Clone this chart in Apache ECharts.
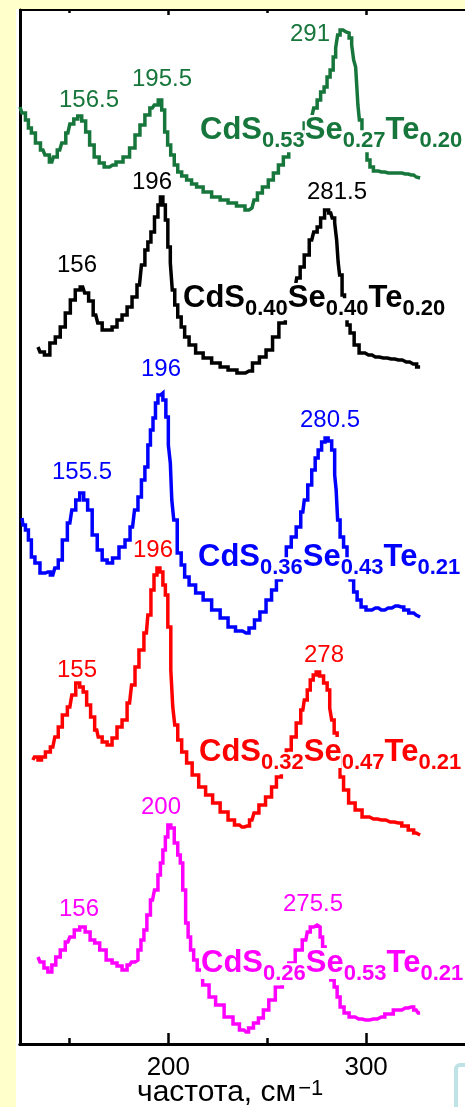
<!DOCTYPE html>
<html>
<head>
<meta charset="utf-8">
<script src="https://cdn.jsdelivr.net/npm/echarts@6/dist/echarts.min.js"></script>
<style>
html, body { margin: 0; padding: 0; background: #fff; }
#chart { width: 465px; height: 1107px; }
</style>
</head>
<body>
<div id="chart"></div>
<script>
// raman spectra, intensity offset per sample (arb. units)
const freqGreen = [125.0,127.0,128.5,130.0,131.5,134.1,136.6,138.6,141.1,142.6,145.1,147.1,149.2,151.2,153.2,155.2,157.2,159.2,161.2,163.8,166.3,168.8,171.8,175.3,178.9,181.9,184.4,186.9,189.4,191.9,193.9,195.9,197.4,198.9,200.4,202.0,204.0,205.5,208.0,210.5,213.0,215.6,219.6,224.2,228.2,232.2,236.7,240.8,242.3,244.3,245.8,249.3,251.8,254.4,256.9,259.4,262.4,264.9,267.4,270.0,272.5,274.5,276.0,278.0,279.5,281.0,282.6,284.1,285.1,286.1,287.6,289.1,290.6,292.2,293.2,294.2,295.2,295.6,296.1,297.1,298.7,299.7,301.2,302.7,304.7,307.7,311.2,316.3,319.8,322.8,325.3,327.3];
const intGreen = [937,931,924,916,911,901,894,889,882,887,894,901,911,920,925,928,923,912,899,887,881,877,879,882,887,896,909,919,929,936,939,944,934,912,899,889,879,872,868,864,860,857,852,847,844,841,838,834,836,844,851,857,864,871,879,887,894,903,911,921,927,936,944,952,957,967,974,987,996,1009,1014,1012,1011,1006,999,984,977,954,939,924,904,894,884,877,873,872,871,871,870,869,867,866];

const freqBlack = [134.1,136.1,138.6,141.6,144.1,146.6,149.2,151.7,154.2,156.7,158.7,160.7,163.3,165.3,167.8,170.3,172.8,175.3,177.9,180.4,182.9,185.4,187.4,188.9,190.4,192.0,194.0,195.5,196.5,198.0,199.0,200.5,201.5,202.5,204.0,205.5,207.5,209.0,212.0,215.6,219.6,224.2,228.2,232.2,237.2,240.8,244.3,247.8,251.0,254.4,257.4,260.9,263.9,265.9,267.4,270.0,272.5,274.5,276.0,278.0,280.0,282.1,283.6,284.6,285.6,286.1,287.1,288.6,289.6,291.1,292.7,295.2,297.7,301.2,304.7,308.7,312.7,316.3,320.3,323.8,327.3];
const intBlack = [697,692,689,701,707,717,731,744,754,757,751,743,729,721,714,714,717,724,729,737,747,759,779,794,802,812,827,839,847,839,824,797,781,754,739,727,717,707,699,691,686,681,677,674,671,673,681,687,694,707,721,736,754,766,777,789,804,812,817,826,834,831,826,821,804,782,769,749,727,719,711,699,691,689,687,686,685,684,682,680,677];

const freqBlue = [126.0,127.0,128.5,130.0,131.5,133.6,136.6,139.1,141.6,143.6,145.1,147.7,150.2,152.2,154.2,156.2,158.2,160.2,162.8,165.3,167.8,170.3,173.3,176.8,179.4,181.9,183.9,185.4,187.4,188.9,190.4,191.5,193.0,194.0,195.5,196.5,198.0,199.5,200.5,201.5,202.0,203.5,205.5,207.5,209.0,212.0,215.6,219.6,224.2,228.2,232.2,235.7,239.3,242.3,244.8,247.8,251.0,253.4,255.9,258.4,260.9,263.4,265.9,268.0,269.5,271.5,273.5,275.0,276.5,278.5,280.0,281.6,283.6,284.6,285.1,286.1,287.6,289.6,291.1,292.7,294.7,296.2,298.7,301.2,304.7,307.7,311.2,314.8,317.8,320.3,322.8,325.3,327.3];
const intBlue = [526,519,514,504,487,481,471,472,469,476,484,504,521,534,544,551,544,534,509,494,484,481,486,497,504,517,534,547,564,577,599,614,626,641,649,651,644,627,599,581,544,524,491,479,467,459,451,444,434,426,417,413,411,416,424,432,444,454,464,479,497,507,517,532,544,559,574,586,594,602,606,603,594,569,554,524,507,497,484,464,452,444,437,434,436,434,436,438,437,434,431,429,427];

const freqRed = [131.5,133.1,135.1,136.6,139.1,141.6,143.6,145.1,147.7,150.2,152.2,154.2,156.2,157.7,159.7,161.7,163.8,165.3,167.8,170.3,172.8,175.3,177.9,180.4,182.4,183.9,186.4,188.9,190.4,192.0,193.5,195.0,196.5,198.0,199.0,200.5,202.0,202.5,204.0,205.5,208.0,210.5,213.6,217.1,220.6,224.2,228.2,232.2,234.7,237.2,239.8,242.3,244.3,247.3,251.0,253.4,255.9,258.4,260.9,263.4,265.9,268.0,269.5,271.0,272.5,274.0,275.5,277.5,279.5,281.1,282.1,283.1,284.6,286.1,287.6,289.6,292.7,296.2,299.7,303.7,307.7,312.2,316.3,319.8,322.8,325.3,327.3];
const intRed = [284,287,284,287,292,297,307,317,329,337,349,361,357,352,339,327,314,307,302,299,306,317,324,341,359,377,394,411,429,454,469,476,472,459,449,417,374,337,319,304,292,281,269,257,249,241,232,224,219,217,218,224,231,239,247,257,267,281,294,307,321,334,344,354,364,369,372,368,361,354,336,324,311,289,267,254,241,234,227,225,224,222,221,218,214,211,209];

const freqMagenta = [134.1,136.1,138.1,140.1,142.1,144.1,146.6,149.2,151.2,153.7,156.7,159.2,161.7,163.8,166.8,170.3,172.8,175.3,177.9,180.4,182.4,183.9,185.4,186.9,188.4,189.9,192.0,194.0,195.5,196.5,198.0,199.0,200.5,202.0,204.0,205.5,206.6,208.0,209.5,210.5,212.0,213.6,215.6,219.1,222.1,225.7,230.7,234.7,237.2,239.3,241.8,244.3,246.8,249.3,252.3,255.9,259.4,262.4,265.9,269.5,271.0,272.5,274.5,276.0,277.5,278.5,280.0,281.1,283.1,284.6,286.1,287.6,290.1,292.7,296.2,299.7,303.7,307.7,311.2,316.3,319.8,322.8,325.3,327.3];
const intMagenta = [87,82,76,72,79,87,94,102,107,114,117,112,104,101,94,84,81,78,74,79,82,84,94,104,114,129,144,154,169,181,194,207,219,216,201,189,181,154,121,107,94,84,74,59,47,39,27,20,14,12,16,21,26,34,44,57,69,81,94,104,112,117,119,117,107,97,84,74,64,57,47,37,31,27,25,24,25,27,30,34,36,37,34,31];

// peak positions written above each curve
const peaksGreen = ['156.5', '195.5', '291'];
const peaksBlack = ['156', '196', '281.5'];
const peaksBlue = ['155.5', '196', '280.5'];
const peaksRed = ['155', '196', '278'];
const peaksMagenta = ['156', '200', '275.5'];

// composition: text, subscript, text, subscript ...
const formulaGreen = ['CdS', '0.53', 'Se', '0.27', 'Te', '0.20'];
const formulaBlack = ['CdS', '0.40', 'Se', '0.40', 'Te', '0.20'];
const formulaBlue = ['CdS', '0.36', 'Se', '0.43', 'Te', '0.21'];
const formulaRed = ['CdS', '0.32', 'Se', '0.47', 'Te', '0.21'];
const formulaMagenta = ['CdS', '0.26', 'Se', '0.53', 'Te', '0.21'];

const majorTicks = [200, 300];
const minorTicks = [150, 250];

const FONT = '"Liberation Sans", Arial, sans-serif';
const curves = [
    { x: freqGreen, y: intGreen, color: '#17763b', peaks: peaksGreen, formula: formulaGreen,
      peakPos: [[89, 108], [162, 87], [310, 42]], formulaPos: [200, 140] },
    { x: freqBlack, y: intBlack, color: '#000000', peaks: peaksBlack, formula: formulaBlack,
      peakPos: [[77, 273], [152, 190], [337, 200]], formulaPos: [183, 308] },
    { x: freqBlue, y: intBlue, color: '#0000ff', peaks: peaksBlue, formula: formulaBlue,
      peakPos: [[82, 480], [161, 377], [330, 428]], formulaPos: [198, 567] },
    { x: freqRed, y: intRed, color: '#ff0000', peaks: peaksRed, formula: formulaRed,
      peakPos: [[77, 678], [153, 558], [324, 663]], formulaPos: [199, 762] },
    { x: freqMagenta, y: intMagenta, color: '#ff00ff', peaks: peaksMagenta, formula: formulaMagenta,
      peakPos: [[79, 917], [161, 815], [313, 912]], formulaPos: [201, 973] }
];

const ctx = document.createElement('canvas').getContext('2d');
function textWidth(t, font) {
    ctx.font = font;
    return ctx.measureText(t).width;
}

// text placed by its baseline (zrender only knows top/middle/bottom)
function textAt(t, x, baseline, size, weight, color, align, bg) {
    const font = weight + ' ' + size + 'px ' + FONT;
    return {
        type: 'text', x: x, y: baseline - 0.31 * size, z: 100,
        style: {
            text: t, font: font, fill: color,
            align: align, textAlign: align,
            verticalAlign: 'middle', textVerticalAlign: 'middle',
            backgroundColor: bg
        }
    };
}

function formulaText(parts, pos, color) {
    const out = [];
    let cx = pos[0];
    parts.forEach((p, i) => {
        const sub = i % 2 === 1;
        const size = sub ? 22 : 31;
        out.push(textAt(p, cx, sub ? pos[1] + 8 : pos[1], size, 'bold', color, 'left', '#fff'));
        cx += textWidth(p, 'bold ' + size + 'px ' + FONT);
    });
    return out;
}

const graphics = [
    { type: 'rect', z: 0, shape: { x: 0, y: 0, width: 16, height: 1107 }, style: { fill: '#ffffcc' } },
    { type: 'rect', z: 0, shape: { x: 0, y: 0, width: 465, height: 9 }, style: { fill: '#ffffcc' } },
    { type: 'rect', z: 0, shape: { x: 456, y: 1065, width: 40, height: 60, r: 4 },
      style: { fill: '#fff', stroke: '#bfe2e6', lineWidth: 4 } }
];
curves.forEach(c => {
    c.peaks.forEach((p, i) => {
        graphics.push(textAt(p, c.peakPos[i][0], c.peakPos[i][1], 24, 'normal', c.color, 'center'));
    });
    formulaText(c.formula, c.formulaPos, c.color).forEach(g => graphics.push(g));
});
// axis name with superscript
const nameMain = 'частота, см';
graphics.push(textAt(nameMain, 137, 1102, 30, 'normal', '#000', 'left'));
graphics.push(textAt('\u22121', 137 + textWidth(nameMain, 'normal 30px ' + FONT) + 2, 1096, 22, 'normal', '#000', 'left'));

function xAxisDef(position, ticks, len, labels) {
    return {
        type: 'value', position: position, min: 125, max: 350,
        axisLine: { show: true, lineStyle: { color: '#000', width: position === 'top' ? 2 : 3 } },
        axisTick: { show: true, inside: true, length: len, customValues: ticks,
            lineStyle: { color: '#000', width: 2.5 } },
        axisLabel: labels ? { show: true, customValues: labels, color: '#000', fontSize: 26,
            fontFamily: FONT, margin: 11 } : { show: false },
        splitLine: { show: false }
    };
}

const chart = echarts.init(document.getElementById('chart'), null, { renderer: 'canvas' });
chart.setOption({
    animation: false,
    backgroundColor: '#fff',
    grid: { left: 20, top: 10, width: 447, height: 1034, containLabel: false },
    xAxis: [
        xAxisDef('bottom', majorTicks, 11, majorTicks),
        xAxisDef('bottom', minorTicks, 6, null),
        xAxisDef('top', majorTicks, 5, null),
        xAxisDef('top', minorTicks, 3, null)
    ],
    yAxis: {
        type: 'value', min: 0, max: 1034,
        axisLine: { show: true, lineStyle: { color: '#000', width: 3 } },
        axisTick: { show: false }, axisLabel: { show: false }, splitLine: { show: false }
    },
    series: curves.map(c => ({
        type: 'line',
        xAxisIndex: 0,
        step: 'middle',
        showSymbol: false,
        symbol: 'none',
        lineStyle: { color: c.color, width: 3.5, join: 'miter' },
        data: c.x.map((v, i) => [v, c.y[i]])
    })),
    graphic: graphics
});
</script>
</body>
</html>
